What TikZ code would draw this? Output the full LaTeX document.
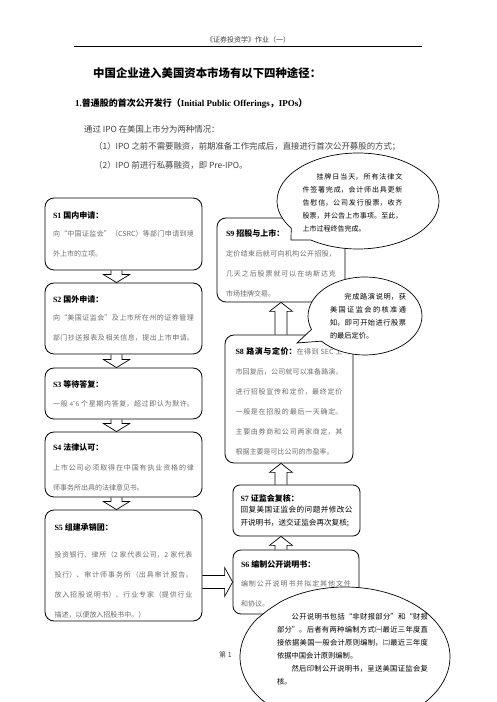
\documentclass[tikz,border=0pt]{standalone}
\usepackage{fontspec}
\setmainfont{Noto Sans CJK SC}
\newfontfamily\lat{Liberation Serif}
\usetikzlibrary{calc,shapes.callouts}
\XeTeXlinebreaklocale "zh"
\XeTeXlinebreakskip=0pt plus 1pt
\definecolor{bodygray}{gray}{0.42}
\definecolor{textgray}{gray}{0.25}
\newcommand\boxhead[3][0pt]{{\color{black}\bfseries\fontsize{8}{20}\selectfont\rule{0pt}{#1}{\lat #2} #3}}
\begin{document}
\begin{tikzpicture}[
x=1pt,y=1pt,
stepbox/.style={
  draw,
  line width=0.8pt,
  rounded corners=9pt,
  inner sep=2pt,
  align=justify,
  text=bodygray,
  font=\fontsize{7}{20}\selectfont
  },
hollow/.style={draw,line width=0.7pt,line join=miter},
bubble/.style={ellipse callout,draw,fill=white,line width=0.7pt,inner sep=0pt,callout pointer arc=20},
bubbletext/.style={align=justify,inner sep=0pt,font=\fontsize{7}{13}\selectfont},
plain/.style={anchor=west,inner sep=0pt}
]
\useasboundingbox (0,0) rectangle (496,702);
\clip (0,0) rectangle (496,702);
\node[text=textgray,font=\fontsize{7}{8}\selectfont] (head) at (248,662) {《证券投资学》作业（一）};
\draw[line width=0.8pt] (74,656) -- (422,656);
\node[plain,font=\bfseries\fontsize{11.4}{12}\selectfont] (title) at (93,629) {中国企业进入美国资本市场有以下四种途径：};
\node[plain,font=\bfseries\fontsize{9}{10}\selectfont] (sec) at (75,598) {{\lat 1.}普通股的首次公开发行（{\lat Initial Public Offerings}，{\lat IPOs}）};
\node[plain,text=textgray,font=\fontsize{8.4}{10}\selectfont] (intro) at (84,573) {通过 IPO 在美国上市分为两种情况：};
\node[plain,text=textgray,font=\fontsize{8.4}{10}\selectfont] (way1) at (94,555) {（1）IPO 之前不需要融资，前期准备工作完成后，直接进行首次公开募股的方式；};
\node[plain,text=textgray,font=\fontsize{8.4}{10}\selectfont] (way2) at (94,537) {（2）IPO 前进行私募融资，即 Pre-IPO。};
\node[stepbox,minimum width=157pt,minimum height=72pt,text width=141pt] (s1) at (123.5,468) {\boxhead{S1}{国内申请：}\par\vspace{-2pt}向“中国证监会”（CSRC）等部门申请到境\linebreak 外上市的立项。};
\node[stepbox,minimum width=157pt,minimum height=71pt,text width=141pt] (s2) at (123.5,383.5) {\boxhead{S2}{国外申请：}\par\vspace{-2pt}向“美国证监会”及上市所在州的证券管理\linebreak {\parfillskip=0pt 部门抄送报表及相关信息，提出上市申请。\par}};
\node[stepbox,minimum width=157pt,minimum height=51pt,text width=141pt] (s3) at (123.5,308.5) {\boxhead{S3}{等待答复：}\par\vspace{-1pt}{\parfillskip=0pt 一般 {\lat 4˜6} 个星期内答复，超过即认为默许。\par}};
\node[stepbox,minimum width=157pt,minimum height=65pt,text width=141pt] (s4) at (123.5,237.5) {\boxhead[13.3pt]{S4}{法律认可：}\par 上市公司必须取得在中国有执业资格的律\linebreak 师事务所出具的法律意见书。};
\node[stepbox,minimum width=157pt,minimum height=111pt,text width=138pt] (s5) at (123.5,136.5) {\boxhead[18.3pt]{S5}{组建承销团：}\par\vspace{7pt}投资银行、律所（2 家代表公司，2 家代表\linebreak 投行）、审计师事务所（出具审计报告，\linebreak 放入招股说明书）、行业专家（提供行业\linebreak 描述，以便放入招股书中。）};
\node[stepbox,minimum width=128pt,minimum height=84pt,text width=110pt] (s9) at (281,442) {\boxhead[13.3pt]{S9}{招股与上市：}\par 定价结束后就可向机构公开招股，\linebreak 几天之后股票就可以在纳斯达克\linebreak 市场挂牌交易。};
\node[stepbox,minimum width=128pt,minimum height=128pt,text width=107pt] (s8) at (289,303) {\boxhead[12.3pt]{S8}{路演与定价：}在得到 SEC 上\linebreak 市回复后，公司就可以准备路演，\linebreak 进行招股宣传和定价，最终定价\linebreak 一般是在招股的最后一天确定。\linebreak 主要由券商和公司两家商定，其\linebreak 根据主要是可比公司的市盈率。};
\node[stepbox,rounded corners=7pt,text=black,font=\fontsize{7.6}{13}\selectfont,minimum width=127pt,minimum height=51pt,text width=112pt] (s7) at (296.5,191.5) {\boxhead{S7}{证监会复核：}\par\vspace{-2pt}回复美国证监会的问题并修改公\linebreak 开说明书，送交证监会再次复核;};
\node[stepbox,rounded corners=8pt,minimum width=126pt,minimum height=64pt,text width=110pt] (s6) at (296,120) {\boxhead[10.3pt]{S6}{编制公开说明书：}\par\vspace{-1pt}编制公开说明书并拟定其他文件\linebreak 和协议。};
\foreach \a/\b in {s1/s2,s2/s3,s3/s4,s4/s5}
  \draw[hollow] let \p1=([xshift=-7pt]\a.south), \p2=([xshift=-7pt]\b.north) in
    (\x1-5.5pt,\y1) -- (\x1-5.5pt,\y2+8pt) -- (\x1-13pt,\y2+8pt) -- (\x2,\y2)
    -- (\x1+13pt,\y2+8pt) -- (\x1+5.5pt,\y2+8pt) -- (\x1+5.5pt,\y1);
\foreach \a/\b in {s6/s7,s7/s8,s8/s9}
  \draw[hollow] let \p1=(\a.north -| s9.south), \p2=(\b.south -| s9.south) in
    (\x1-6pt,\y1) -- (\x1-6pt,\y2-9pt) -- (\x1-11.5pt,\y2-9pt) -- (\x2,\y2)
    -- (\x1+11.5pt,\y2-9pt) -- (\x1+6pt,\y2-9pt) -- (\x1+6pt,\y1);
\draw[hollow] let \p1=(s5.east |- s6.west), \p2=(s6.west) in
  (\x1,\y1+6.5pt) -- (\x2-8pt,\y1+6.5pt) -- (\x2-8pt,\y1+14.5pt) -- (\x2,\y2)
  -- (\x2-8pt,\y1-14.5pt) -- (\x2-8pt,\y1-6.5pt) -- (\x1,\y1-6.5pt);
\node[plain,text=textgray,font=\fontsize{7}{8}\selectfont] (page) at (219,47) {第 1};
\coordinate (p1) at (291,462);
\coordinate (p2) at (297,359);
\coordinate (p3) at (268,92);
\node[bubble,minimum width=162pt,minimum height=96pt,callout absolute pointer={(p1)}] (c1) at (358,501) {};
\node[bubble,minimum width=114pt,minimum height=78pt,callout absolute pointer={(p2)}] (c2) at (365,386) {};
\node[bubble,minimum width=210pt,minimum height=140pt,callout absolute pointer={(p3)}] (c3) at (345,45) {};
\node[bubbletext,text width=100pt] (t1) at ([shift={(-5.5,-1.5)}]c1.center) {\hspace*{2em}挂牌日当天，所有法律文\linebreak 件签署完成，会计师出具更新\linebreak 告慰信，公司发行股票，收齐\linebreak 股票，并公告上市事项。至此，\linebreak 上市过程终告完成。};
\node[bubbletext,text width=76pt,font=\fontsize{7.2}{13}\selectfont] (t2) at ([shift={(3,-0.5)}]c2.center) {\hspace*{2em}完成路演说明，获\linebreak 美国证监会的核准通\linebreak 知，即可开始进行股票\linebreak 的最后定价。};
\node[bubbletext,text width=151pt,font=\fontsize{7.3}{13}\selectfont] (t3) at ([shift={(7.5,7.5)}]c3.center) {\hspace*{2em}公开说明书包括“非财报部分”和“财报\linebreak 部分”。后者有两种编制方式㈠最近三年度直\linebreak 接依据美国一般会计原则编制，㈡最近三年度\linebreak 依据中国会计原则编制。\par\hspace*{2em}然后印制公开说明书，呈送美国证监会复\linebreak 核。};
\end{tikzpicture}
\end{document}
